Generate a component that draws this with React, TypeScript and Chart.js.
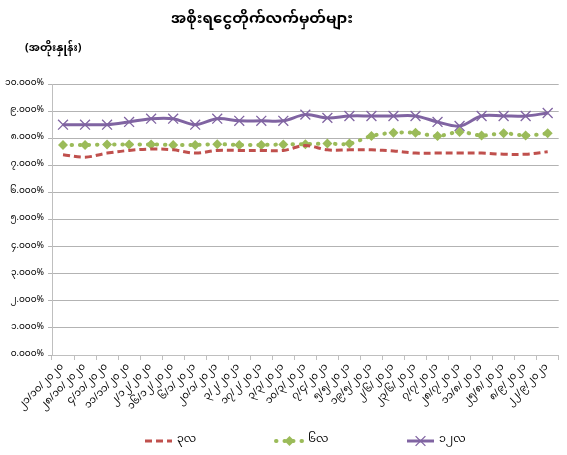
import React, { useEffect, useRef } from "react";
import { Chart, registerables } from "chart.js";

Chart.register(...registerables);

const FONT = '"Noto Sans Myanmar", "Myanmar Text", Padauk, "Noto Sans", "DejaVu Sans", sans-serif';

const TITLE = "အစိုးရငွေတိုက်လက်မှတ်များ";
const UNIT = "(အတိုးနှုန်း)";

const categories = [
  "၂၁/၁၀/၂၀၂၀", "၂၈/၁၀/၂၀၂၀", "၄/၁၁/၂၀၂၀", "၁၁/၁၁/၂၀၂၀", "၂/၁၂/၂၀၂၀",
  "၁၆/၁၂/၂၀၂၀", "၆/၁/၂၀၂၁", "၂၀/၁/၂၀၂၁", "၃/၂/၂၀၂၁", "၁၇/၂/၂၀၂၁",
  "၃/၃/၂၀၂၁", "၁၀/၃/၂၀၂၁", "၇/၄/၂၀၂၁", "၅/၅/၂၀၂၁", "၁၉/၅/၂၀၂၁",
  "၂/၆/၂၀၂၁", "၂၃/၆/၂၀၂၁", "၇/၇/၂၀၂၁", "၂၈/၇/၂၀၂၁", "၁၁/၈/၂၀၂၁",
  "၂၅/၈/၂၀၂၁", "၈/၉/၂၀၂၁", "၂၂/၉/၂၀၂၁",
];

const seriesNames = ["၃လ", "၆လ", "၁၂လ"];

const month3 = [7.39, 7.3, 7.45, 7.55, 7.6, 7.57, 7.45, 7.55, 7.55, 7.55, 7.55, 7.73, 7.57, 7.57, 7.57, 7.53, 7.45, 7.45, 7.45, 7.45, 7.41, 7.41, 7.5];
const month6 = [7.75, 7.75, 7.77, 7.77, 7.77, 7.75, 7.75, 7.78, 7.75, 7.75, 7.77, 7.78, 7.8, 7.8, 8.08, 8.2, 8.2, 8.08, 8.23, 8.1, 8.18, 8.1, 8.18];
const month12 = [8.5, 8.5, 8.5, 8.6, 8.72, 8.72, 8.5, 8.72, 8.64, 8.64, 8.64, 8.87, 8.75, 8.82, 8.82, 8.82, 8.82, 8.6, 8.45, 8.82, 8.82, 8.82, 8.93];

const yTickLabels = [
  "၀.၀၀၀%", "၁.၀၀၀%", "၂.၀၀၀%", "၃.၀၀၀%", "၄.၀၀၀%", "၅.၀၀၀%",
  "၆.၀၀၀%", "၇.၀၀၀%", "၈.၀၀၀%", "၉.၀၀၀%", "၁၀.၀၀၀%",
];

const RED = "#c0504d";
const GREEN = "#9bbb59";
const PURPLE = "#8064a2";

function drawMarker(ctx: CanvasRenderingContext2D, style: string, x: number, y: number, r: number, color: string) {
  ctx.save();
  ctx.setLineDash([]);
  if (style === "rectRot") {
    ctx.fillStyle = color;
    ctx.beginPath();
    ctx.moveTo(x, y - r);
    ctx.lineTo(x + r, y);
    ctx.lineTo(x, y + r);
    ctx.lineTo(x - r, y);
    ctx.closePath();
    ctx.fill();
  } else if (style === "crossRot") {
    ctx.strokeStyle = color;
    ctx.lineWidth = 1.3;
    ctx.beginPath();
    ctx.moveTo(x - r * 0.7, y - r * 0.7);
    ctx.lineTo(x + r * 0.7, y + r * 0.7);
    ctx.moveTo(x + r * 0.7, y - r * 0.7);
    ctx.lineTo(x - r * 0.7, y + r * 0.7);
    ctx.stroke();
  }
  ctx.restore();
}

const textPlugin = {
  id: "customTexts",
  afterDraw(chart: any) {
    const ctx: CanvasRenderingContext2D = chart.ctx;
    ctx.save();
    ctx.fillStyle = "#000";
    ctx.textBaseline = "middle";
    ctx.textAlign = "center";
    ctx.font = "bold 15px " + FONT;
    ctx.fillText(TITLE, 262, 21);
    ctx.textAlign = "left";
    ctx.font = "bold 11px " + FONT;
    ctx.fillText(UNIT, 25, 50);

    // legend
    const ds = chart.data.datasets;
    const startX = 145;
    const step = 131;
    const ly = 441;
    ds.forEach((d: any, i: number) => {
      const x0 = startX + i * step;
      const x1 = x0 + 27;
      ctx.save();
      ctx.strokeStyle = d.borderColor;
      ctx.lineWidth = d.borderWidth;
      ctx.lineCap = d.borderCapStyle || "butt";
      ctx.setLineDash(d.borderDash || []);
      ctx.beginPath();
      ctx.moveTo(x0, ly);
      ctx.lineTo(x1, ly);
      ctx.stroke();
      ctx.restore();
      if (d.pointStyle && d.pointRadius > 0) {
        drawMarker(ctx, d.pointStyle, (x0 + x1) / 2, ly, d.pointRadius, d.pointBackgroundColor || d.borderColor);
      }
      ctx.fillStyle = "#000";
      ctx.font = "11px " + FONT;
      ctx.textAlign = "left";
      ctx.fillText(d.label, x1 + 5, ly);
    });
    ctx.restore();
  },
};

export default function App() {
  const ref = useRef<HTMLCanvasElement | null>(null);

  useEffect(() => {
    document.body.style.margin = "0";
    if (!ref.current) return;
    const chart = new Chart(ref.current, {
      type: "line",
      data: {
        labels: categories,
        datasets: [
          {
            label: seriesNames[0],
            data: month3,
            borderColor: RED,
            backgroundColor: RED,
            borderWidth: 3,
            borderDash: [7, 4],
            pointRadius: 0,
            pointHoverRadius: 0,
            tension: 0.35,
            fill: false,
          },
          {
            label: seriesNames[1],
            data: month6,
            borderColor: GREEN,
            backgroundColor: GREEN,
            borderWidth: 4,
            borderDash: [0.5, 8],
            borderCapStyle: "round",
            pointStyle: "rectRot",
            pointRadius: 5,
            pointBackgroundColor: GREEN,
            pointBorderColor: GREEN,
            pointBorderWidth: 0,
            tension: 0.35,
            fill: false,
          },
          {
            label: seriesNames[2],
            data: month12,
            borderColor: PURPLE,
            backgroundColor: PURPLE,
            borderWidth: 3,
            pointStyle: "crossRot",
            pointRadius: 7,
            pointBorderColor: PURPLE,
            pointBorderWidth: 1.3,
            tension: 0.35,
            fill: false,
          },
        ] as any,
      },
      options: {
        animation: false,
        responsive: true,
        maintainAspectRatio: false,
        layout: { padding: { top: 84, bottom: 40, left: 0, right: 1 } },
        plugins: {
          legend: { display: false },
          title: { display: false },
          tooltip: { enabled: false },
        },
        scales: {
          x: {
            offset: true,
            afterFit: (scale: any) => {
              scale.height = 60;
            },
            grid: {
              drawOnChartArea: false,
              offset: true,
              tickLength: 5,
              color: "#bfbfbf",
            },
            border: { color: "#bfbfbf" },
            ticks: {
              autoSkip: false,
              minRotation: 45,
              maxRotation: 45,
              padding: 2,
              color: "#000",
              font: { family: FONT, size: 10 },
            },
          },
          y: {
            min: 0,
            max: 10,
            afterFit: (scale: any) => {
              scale.width = 52;
            },
            grid: {
              color: "#b3b3b3",
              tickLength: 4,
            },
            border: { color: "#bfbfbf" },
            ticks: {
              stepSize: 1,
              padding: 4,
              color: "#000",
              font: { family: FONT, size: 9 },
              callback: (_v: any, i: number) => yTickLabels[i],
            },
          },
        },
      },
      plugins: [textPlugin],
    });
    return () => chart.destroy();
  }, []);

  return (
    <div style={{ position: "relative", width: 567, height: 455 }}>
      <canvas ref={ref} />
    </div>
  );
}
